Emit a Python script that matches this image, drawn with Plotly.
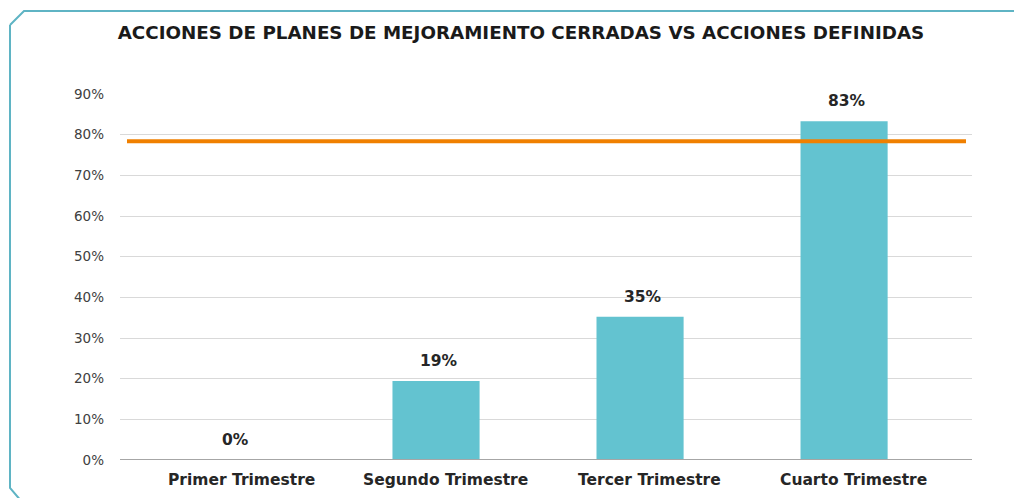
import plotly.graph_objects as go

categorias = ["Primer Trimestre", "Segundo Trimestre", "Tercer Trimestre", "Cuarto Trimestre"]
valores = [0.0, 0.194, 0.352, 0.833]
etiquetas = ["0%", "19%", "35%", "83%"]
meta = 0.784
ticks = [0, 0.1, 0.2, 0.3, 0.4, 0.5, 0.6, 0.7, 0.8, 0.9]
tick_text = ["0%", "10%", "20%", "30%", "40%", "50%", "60%", "70%", "80%", "90%"]
titulo = "ACCIONES DE PLANES DE MEJORAMIENTO CERRADAS VS ACCIONES DEFINIDAS"

OFF = 8  # browser default body margin
W, H = 1022, 498
PL, PT, PW, PH = 120, 94, 852, 366  # desired plot area in screen px
ML, MT = PL - OFF, PT - OFF
MR = W - ML - PW
MB = H - MT - PH

def px(x):
    return (x - PL) / PW

def py(y):
    return (PT + PH - y) / PH

FONT = "DejaVu Sans"

fig = go.Figure()
fig.add_trace(go.Bar(
    x=list(range(len(categorias))), y=valores,
    marker=dict(color="#63C3D0", line=dict(width=0)),
    width=0.427,
    hoverinfo="skip",
))

for i, (v, t) in enumerate(zip(valores, etiquetas)):
    fig.add_annotation(x=i, y=v, text=t, showarrow=False, yanchor="middle", yshift=20, xshift=3,
                       font=dict(family=FONT, size=15.5, color="#262626", weight="bold"))

for i, c in enumerate(categorias):
    fig.add_annotation(x=i, y=0, yref="paper", text=c, showarrow=False, yanchor="middle",
                       yshift=-20, xshift=9,
                       font=dict(family=FONT, size=15.5, color="#262626", weight="bold"))

fig.add_shape(type="line", xref="paper", yref="y",
              x0=px(127), x1=px(966), y0=meta, y1=meta,
              line=dict(color="#F08000", width=4))

# frame
frame = (f"M {px(10)},{py(25)} L {px(24)},{py(11)} L {px(1040)},{py(11)} "
         f"M {px(10)},{py(25)} L {px(10)},{py(488)} L {px(22)},{py(502)}")
fig.add_shape(type="path", xref="paper", yref="paper", path=frame,
              line=dict(color="#5FB4C4", width=2), layer="below")

fig.add_shape(type="line", xref="paper", yref="y", x0=0, x1=1, y0=0, y1=0,
              line=dict(color="#A6A6A6", width=2))

fig.update_layout(
    width=W, height=H,
    margin=dict(l=ML, r=MR, t=MT, b=MB, autoexpand=False),
    paper_bgcolor="white", plot_bgcolor="white",
    showlegend=False,
    title=dict(text=titulo, x=(521 - OFF) / W, xanchor="center", y=1 - (33 - OFF) / H, yanchor="middle",
               font=dict(family=FONT, size=18.3, color="#1a1a1a", weight="bold")),
    xaxis=dict(range=[-0.549, 3.627], tickvals=list(range(len(categorias))),
               showticklabels=False,
               showgrid=False, zeroline=False, showline=False, ticks=""),
    yaxis=dict(range=[0, 0.9], tickvals=ticks, ticktext=tick_text,
               showgrid=True, gridcolor="#D9D9D9", gridwidth=1,
               zeroline=False, showline=False, ticks="",
               tickfont=dict(family=FONT, size=13.5, color="#404040"), ticklabelstandoff=15),
)

fig.write_html("out.html")
